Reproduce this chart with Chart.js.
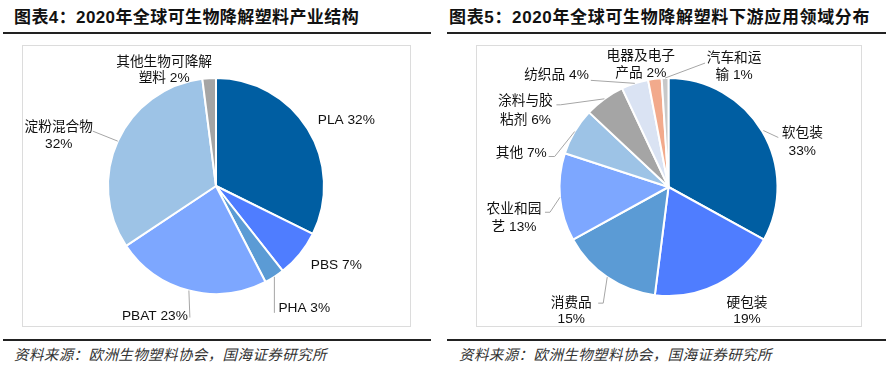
<!DOCTYPE html>
<html><head><meta charset="utf-8">
<script src="https://cdn.jsdelivr.net/npm/chart.js@4.4.0/dist/chart.umd.min.js"></script>
<style>
html,body{margin:0;padding:0;background:#fff;}
body{width:889px;height:391px;position:relative;overflow:hidden;font-family:"Liberation Sans","Noto Sans CJK SC",sans-serif;}
.title{position:absolute;top:7px;font-size:17px;font-weight:bold;color:#111;white-space:nowrap;line-height:22px;letter-spacing:0.4px;}
.rule{position:absolute;height:2px;background:#222;}
.frame{position:absolute;top:45px;height:280px;border:1px solid #dcdcdc;box-sizing:border-box;}
.src{position:absolute;top:345px;font-size:14.5px;font-style:italic;color:#333;white-space:nowrap;line-height:20px;letter-spacing:0.4px;}
canvas{position:absolute;}
</style></head>
<body>
<div class="title" style="left:14px;">图表4：2020年全球可生物降解塑料产业结构</div>
<div class="title" style="left:449px;letter-spacing:0.65px;">图表5：2020年全球可生物降解塑料下游应用领域分布</div>
<div class="rule" style="left:3px;top:32px;width:428px;"></div>
<div class="rule" style="left:447px;top:32px;width:439px;"></div>
<div class="frame" style="left:22px;width:389px;height:282px;"></div>
<div class="frame" style="left:476px;width:386px;height:282px;"></div>
<div class="rule" style="left:3px;top:339px;width:428px;"></div>
<div class="rule" style="left:447px;top:339px;width:439px;"></div>
<div class="src" style="left:14px;">资料来源：欧洲生物塑料协会，国海证券研究所</div>
<div class="src" style="left:459px;">资料来源：欧洲生物塑料协会，国海证券研究所</div>
<canvas id="c1" width="386" height="280" style="left:23px;top:46px;"></canvas>
<canvas id="c2" width="383" height="280" style="left:477px;top:47px;"></canvas>
<script>
// ---- data ----
const industryCategories = ["PLA", "PBS", "PHA", "PBAT", "淀粉混合物", "其他生物可降解塑料"];
const industryValues = [32, 7, 3, 23, 32, 2];
const industryColors = ["#005EA2", "#4F7DFF", "#5B9BD5", "#7DA7FF", "#9DC3E6", "#A5A5A5"];

const applicationCategories = ["软包装", "硬包装", "消费品", "农业和园艺", "其他", "涂料与胶粘剂", "纺织品", "电器及电子产品", "汽车和运输"];
const applicationValues = [33, 19, 15, 13, 7, 6, 4, 2, 1];
const applicationColors = ["#005EA2", "#4F7DFF", "#5B9BD5", "#7DA7FF", "#9DC3E6", "#A5A5A5", "#DAE3F3", "#F2AA8C", "#C8C8C8"];

// ---- label layout (offsets relative to the arc's outer mid point) ----
const industryLabelLayout = [
  {brk: null, align: "left", t: [10, -9]},
  {brk: null, align: "left", t: [11, 11]},
  {brk: null, align: "left", t: [4, 31], leader: [[0,0],[0,36]]},
  {brk: null, align: "right", t: [-1, 26], leader: [[0,0],[1,27]]},
  {brk: 5, align: "center", t: [-59, -14], gap: 17, leader: [[0,0],[-25,-10]]},
  {brk: 7, align: "center", t: [-45, -16], gap: 16}
];
const applicationLabelLayout = [
  {brk: 3, align: "center", t: [40, 1.5], gap: 18, leader: [[1,-1],[16,6]]},
  {brk: 3, align: "center", t: [29, 19], gap: 16},
  {brk: 3, align: "center", t: [-36, 26], gap: 16, leader: [[0,0],[-4,26],[-9,26]]},
  {brk: 4, align: "center", t: [-46, 12], gap: 18, leader: [[0,0],[-10,15],[-15,15]]},
  {brk: null, align: "right", t: [-28, 21.5], leader: [[0,0],[-20,25],[-26,25]]},
  {brk: 4, align: "center", t: [-79, 2], gap: 19, leader: [[0,0],[-44,6],[-48,6]]},
  {brk: null, align: "right", t: [-46, -8], leader: [[0,0],[-44,-3]]},
  {brk: 5, align: "center", t: [-14, -23], gap: 17},
  {brk: 4, align: "center", t: [69, -20], gap: 17, leader: [[0,0],[40,-15]]}
];

function labelPlugin(layout) {
  return {
    id: "pieLabels",
    afterDatasetsDraw(chart) {
      const ctx = chart.ctx;
      const meta = chart.getDatasetMeta(0);
      const labels = chart.data.labels;
      const vals = chart.data.datasets[0].data;
      ctx.save();
      ctx.font = '13.7px "Liberation Sans","Noto Sans CJK SC",sans-serif';
      ctx.fillStyle = "#111";
      ctx.textBaseline = "middle";
      meta.data.forEach((arc, i) => {
        const p = arc.getProps(["x", "y", "startAngle", "endAngle", "outerRadius"], true);
        const mid = (p.startAngle + p.endAngle) / 2;
        const px = p.x + p.outerRadius * Math.cos(mid);
        const py = p.y + p.outerRadius * Math.sin(mid);
        const L = layout[i];
        if (L.leader) {
          ctx.strokeStyle = "#A6A6A6";
          ctx.lineWidth = 1;
          ctx.beginPath();
          L.leader.forEach((q, k) => {
            const x = px + q[0], y = py + q[1];
            if (k === 0) ctx.moveTo(x, y); else ctx.lineTo(x, y);
          });
          ctx.stroke();
        }
        const name = labels[i];
        const valTxt = vals[i] + "%";
        let lines;
        if (L.brk === null) lines = [name + " " + valTxt];
        else {
          const rest = name.slice(L.brk);
          lines = [name.slice(0, L.brk), (rest ? rest + " " : "") + valTxt];
        }
        ctx.textAlign = L.align;
        lines.forEach((ln, k) => {
          ctx.fillText(ln, px + L.t[0], py + L.t[1] + k * (L.gap || 17));
        });
      });
      ctx.restore();
    }
  };
}

function makePie(id, cats, vals, colors, radius, layout) {
  return new Chart(document.getElementById(id), {
    type: "pie",
    data: {labels: cats, datasets: [{data: vals, backgroundColor: colors, borderColor: "#ffffff", borderWidth: 2}]},
    options: {
      responsive: false, animation: false, radius: radius,
      layout: {padding: 0},
      plugins: {legend: {display: false}, tooltip: {enabled: false}}
    },
    plugins: [labelPlugin(layout)]
  });
}
makePie("c1", industryCategories, industryValues, industryColors, 108, industryLabelLayout);
makePie("c2", applicationCategories, applicationValues, applicationColors, 109, applicationLabelLayout);
</script>
</body></html>
